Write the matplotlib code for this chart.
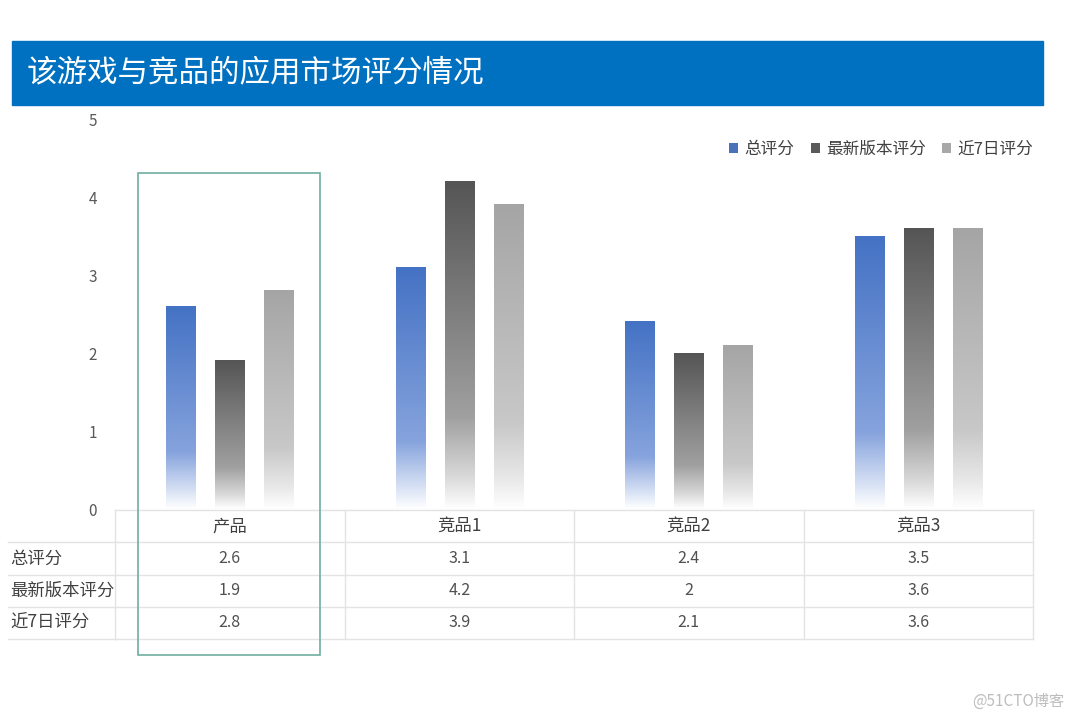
import numpy as np
import matplotlib
matplotlib.use("Agg")
import matplotlib.pyplot as plt
from matplotlib.colors import LinearSegmentedColormap
from matplotlib.patches import Rectangle, Patch
from matplotlib.transforms import blended_transform_factory

plt.rcParams['font.family'] = ['Noto Sans CJK SC', 'DejaVu Sans']

title = "该游戏与竞品的应用市场评分情况"
categories = ["产品", "竞品1", "竞品2", "竞品3"]
series_names = ["总评分", "最新版本评分", "近7日评分"]
total_score = [2.6, 3.1, 2.4, 3.5]
latest_score = [1.9, 4.2, 2, 3.6]
recent7_score = [2.8, 3.9, 2.1, 3.6]
series_values = [total_score, latest_score, recent7_score]

# gradient stops (bottom -> top) per series
grad_colors = [
    ["#ffffff", "#d3def3", "#86a3dd", "#4472c4"],
    ["#ffffff", "#d8d8d8", "#a0a0a0", "#555555"],
    ["#ffffff", "#e8e8e8", "#c8c8c8", "#a5a5a5"],
]
legend_colors = ["#4a72b8", "#5a5a5a", "#a8a8a8"]

fig = plt.figure(figsize=(10.8, 7.24), dpi=100)
W, H = 1080, 724

def fx(px):
    return px / W

def fy(py):
    return 1 - py / H

# title banner
fig.patches.append(Rectangle((fx(12), fy(105)), fx(1043) - fx(12), fy(41) - fy(105),
                             transform=fig.transFigure, color="#0070c0", zorder=0))
fig.text(fx(27), fy(73), title, color="white", fontsize=22, va="center", ha="left")

# main axes
ax = fig.add_axes([fx(115), fy(509), fx(1033) - fx(115), fy(119) - fy(509)])
x = np.arange(len(categories))
width = 0.127
offsets = [-0.214, 0, 0.214]
grad = np.linspace(0, 1, 256).reshape(-1, 1)
for i, vals in enumerate(series_values):
    cmap = LinearSegmentedColormap.from_list(
        f"g{i}", list(zip([0, 0.1, 0.28, 1], grad_colors[i])))
    bars = ax.bar(x + offsets[i], vals, width, color="none", edgecolor="none")
    for b in bars:
        x0, w, h = b.get_x(), b.get_width(), b.get_height()
        ax.imshow(grad, extent=(x0, x0 + w, 0, h), origin="lower", aspect="auto",
                  cmap=cmap, vmin=0, vmax=1, zorder=2)

ax.set_xlim(-0.5, len(categories) - 0.5)
ax.set_ylim(0, 5)
ax.set_yticks(range(0, 6))
ax.set_xticks([])
ax.tick_params(axis="y", length=0, pad=13, labelsize=11, labelcolor="#595959")
for s in ax.spines.values():
    s.set_visible(False)

handles = [Patch(facecolor=c, edgecolor="none") for c in legend_colors]
ax.legend(handles, series_names, ncol=3, loc="center right", bbox_to_anchor=(1.0, 0.923),
          frameon=False, borderpad=0, borderaxespad=0, handlelength=0.55, handleheight=0.55,
          handletextpad=0.35, columnspacing=1.0, fontsize=12, labelcolor="#404040")

# data table
axt = fig.add_axes([fx(115), fy(639), fx(1033) - fx(115), fy(510) - fy(639)])
axt.set_xlim(-0.5, len(categories) - 0.5)
axt.set_ylim(4, 0)
axt.axis("off")
line_c = "#e3e3e3"
bt = blended_transform_factory(fig.transFigure, axt.transData)
for r in range(5):
    axt.plot([-0.5, len(categories) - 0.5], [r, r], color=line_c, lw=1, clip_on=False)
    if r >= 1:
        axt.plot([fx(8), fx(115)], [r, r], color=line_c, lw=1, transform=bt, clip_on=False)
for c in range(len(categories) + 1):
    axt.plot([c - 0.5, c - 0.5], [0, 4], color=line_c, lw=1, clip_on=False)
for c, name in enumerate(categories):
    axt.text(c, 0.5, name, ha="center", va="center", fontsize=12.5, color="#404040")
    for r, vals in enumerate(series_values):
        axt.text(c, r + 1.5, f"{vals[c]:g}", ha="center", va="center", fontsize=11.5, color="#505050")
for r, name in enumerate(series_names):
    axt.text(fx(10), r + 1.5, name, ha="left", va="center", fontsize=12.5, color="#404040",
             transform=bt)

# highlight box around the product group
fig.patches.append(Rectangle((fx(138), fy(655)), fx(320) - fx(138), fy(173) - fy(655),
                             transform=fig.transFigure, fill=False, edgecolor="#6fae9f",
                             lw=1.2, zorder=5))

# watermark
fig.text(fx(972), fy(701), "@51CTO博客", color="#bdbdbd", fontsize=11, va="center", ha="left")

fig.savefig("out.png", dpi=100, facecolor="white")
